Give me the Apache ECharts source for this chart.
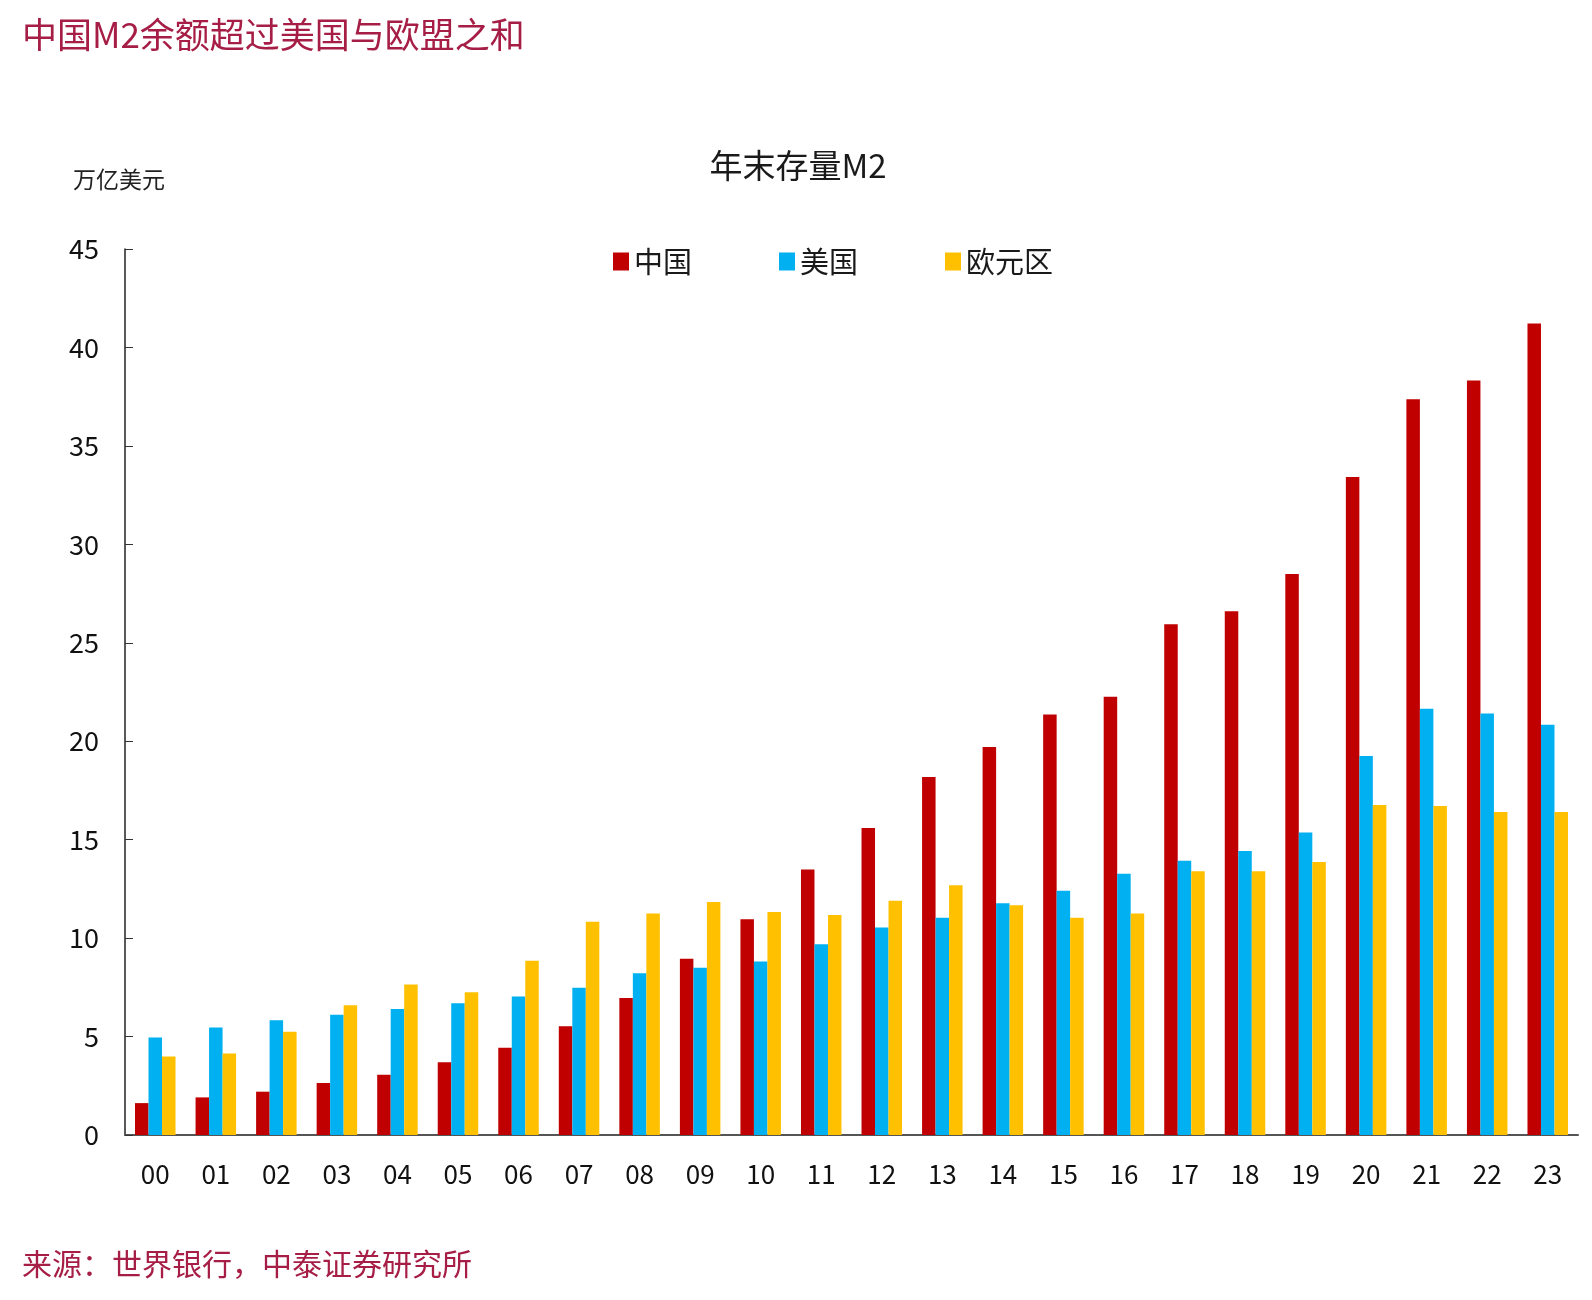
<!DOCTYPE html>
<html>
<head>
<meta charset="utf-8">
<script src="https://cdn.jsdelivr.net/npm/echarts@6/dist/echarts.min.js"></script>
<style>
html,body{margin:0;padding:0;background:#fff;}
#chart{width:1592px;height:1300px;}
</style>
</head>
<body>
<div id="chart"></div>
<script>
var categories = ['00','01','02','03','04','05','06','07','08','09','10','11','12','13','14','15','16','17','18','19','20','21','22','23'];
var chinaValues = [1.62,1.91,2.20,2.64,3.06,3.70,4.43,5.52,6.96,8.95,10.96,13.48,15.59,18.18,19.71,21.36,22.26,25.94,26.60,28.49,33.42,37.37,38.32,41.22];
var usValues = [4.95,5.46,5.83,6.11,6.40,6.69,7.04,7.48,8.21,8.50,8.81,9.69,10.54,11.04,11.77,12.41,13.27,13.93,14.43,15.37,19.25,21.65,21.41,20.84];
var euroValues = [3.99,4.14,5.24,6.59,7.64,7.25,8.85,10.83,11.25,11.84,11.33,11.18,11.90,12.68,11.67,11.04,11.25,13.40,13.40,13.87,16.76,16.71,16.41,16.41];
var seriesNames = ['中国','美国','欧元区'];
var yTicks = [0,5,10,15,20,25,30,35,40,45];

var font = '"Noto Sans CJK SC", "Noto Sans", sans-serif';
var chart = echarts.init(document.getElementById('chart'));
var barStyle = function(color){
  return {type:'bar', barWidth:13.5, barGap:'0%', itemStyle:{color:color}};
};
chart.setOption({
  backgroundColor:'#fff',
  textStyle:{fontFamily:font},
  title:[
    {text:'中国M2余额超过美国与欧盟之和', left:17, top:12,
     textStyle:{fontSize:35, fontWeight:'normal', color:'#a61d45', fontFamily:font}},
    {text:'年末存量M2', left:793, top:144, textAlign:'center',
     textStyle:{fontSize:33, fontWeight:'normal', color:'#1a1a1a', fontFamily:font}},
    {text:'万亿美元', left:68, top:163,
     textStyle:{fontSize:23, fontWeight:'normal', color:'#222', fontFamily:font}},
    {text:'来源：世界银行，中泰证券研究所', left:17, top:1244,
     textStyle:{fontSize:30, fontWeight:'normal', color:'#a61d45', fontFamily:font}}
  ],
  legend:{
    data:seriesNames, left:608, top:242, itemWidth:16, itemHeight:18, itemGap:87,
    icon:'rect',
    textStyle:{fontSize:29, color:'#1a1a1a', fontFamily:font}
  },
  grid:{left:125, right:14, top:249, bottom:165},
  xAxis:{
    type:'category', data:categories,
    axisLine:{lineStyle:{color:'#555', width:2}},
    axisTick:{inside:true, length:8, lineStyle:{color:'#333'}},
    axisLabel:{fontSize:26, color:'#111', margin:26, fontFamily:font}
  },
  yAxis:{
    type:'value', min:0, max:45, interval:5,
    axisLine:{show:true, lineStyle:{color:'#222', width:1.5}},
    axisTick:{show:true, inside:true, length:8, lineStyle:{color:'#333'}},
    splitLine:{show:false},
    axisLabel:{fontSize:27, color:'#111', margin:26, fontFamily:font,
      formatter:function(v){return yTicks.indexOf(v)>=0 ? String(v) : '';}}
  },
  series:[
    Object.assign(barStyle('#C00000'), {name:seriesNames[0], data:chinaValues}),
    Object.assign(barStyle('#00B0F0'), {name:seriesNames[1], data:usValues}),
    Object.assign(barStyle('#FFC000'), {name:seriesNames[2], data:euroValues})
  ]
});
</script>
</body>
</html>
